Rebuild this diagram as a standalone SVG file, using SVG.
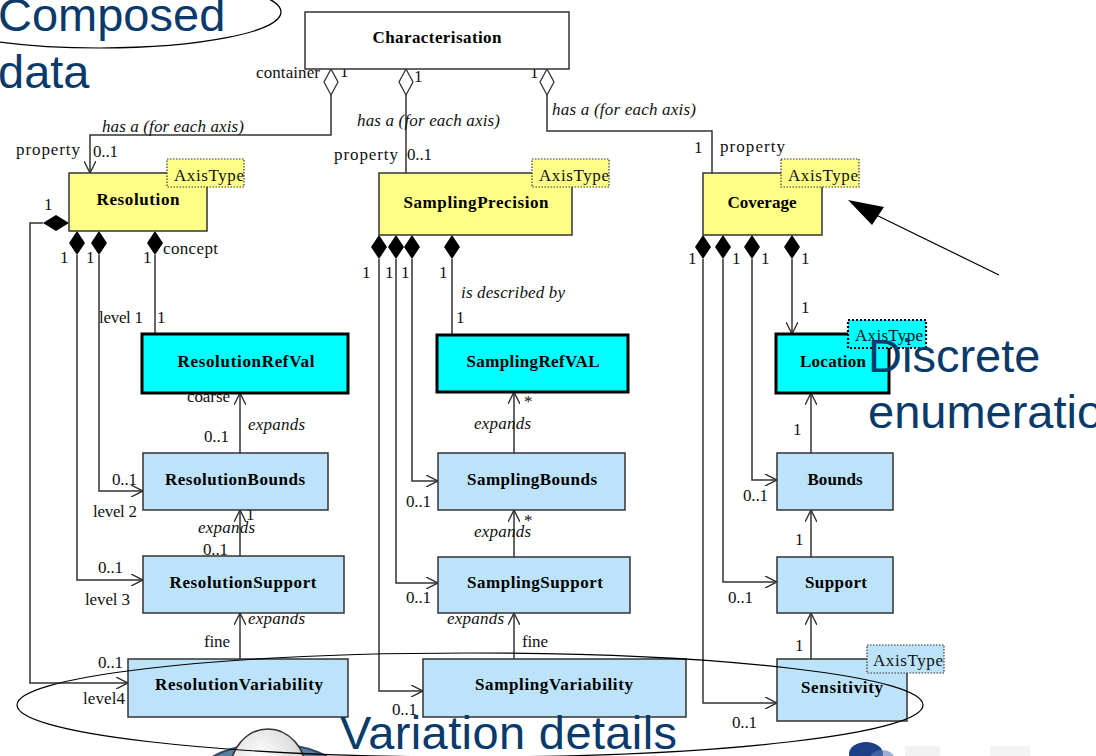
<svg xmlns="http://www.w3.org/2000/svg" xmlns:xlink="http://www.w3.org/1999/xlink" width="1096" height="756" viewBox="0 0 1096 756">
<defs>
<style>
.box{stroke:#333;stroke-width:1.5}
.white{fill:#fff}
.yellow{fill:#ffff88}
.blue{fill:#bde3fb}
.cyan{fill:#00ffff;stroke:#000;stroke-width:3}
.tag{stroke:#333;stroke-width:1.2;stroke-dasharray:1.5 1.5}
.tagc{fill:#00ffff;stroke:#000;stroke-width:2.2;stroke-dasharray:2 2}
.cn{font-family:"Liberation Serif","Times New Roman",serif;font-weight:bold;font-size:17px;text-anchor:middle;fill:#000}
.lb{font-family:"Liberation Serif","Times New Roman",serif;font-size:17px;fill:#111}
.it{font-style:italic}
.ln{fill:none;stroke:#333;stroke-width:1.5}
.arr{marker-end:url(#oa)}
.ann{font-family:"Liberation Sans",Arial,sans-serif;font-size:47px;fill:#0a3a6b}
.ell{fill:none;stroke:#000;stroke-width:1.2}
</style>
<marker id="oa" viewBox="0 0 10 10" refX="10" refY="5" markerWidth="12" markerHeight="12" markerUnits="userSpaceOnUse" orient="auto">
<path d="M0,0 L10,5 L0,10" fill="none" stroke="#333" stroke-width="1.2"/>
</marker>
<path id="fdv" d="M0,0 L8,12 L0,24 L-8,12Z" fill="#000"/>
<path id="fdh" d="M0,0 L-13,-8 L-26,0 L-13,8Z" fill="#000"/>
<path id="hd" d="M0,0 L7,13 L0,26 L-7,13Z" fill="#fff" stroke="#333" stroke-width="1.3"/>
<radialGradient id="dome" cx="0.4" cy="0.35" r="0.7">
<stop offset="0" stop-color="#ffffff"/>
<stop offset="0.7" stop-color="#dcdcdc"/>
<stop offset="1" stop-color="#9a9a9a"/>
</radialGradient>
</defs>
<rect width="1096" height="756" fill="#fff"/>

<g id="connectors">
<polyline class="ln arr" points="331,95 331,135 90,135 90,173"/>
<polyline class="ln" points="406,95 406,173"/>
<polyline class="ln" points="547,95 547,131 712,131 712,173"/>
<use xlink:href="#hd" x="331" y="69"/>
<use xlink:href="#hd" x="406" y="69"/>
<use xlink:href="#hd" x="547" y="69"/>
<text class="lb" x="256" y="78" textLength="64">container</text>
<text class="lb" x="340" y="77">1</text>
<text class="lb" x="414" y="82">1</text>
<text class="lb" x="530" y="78">1</text>
<text class="lb it" x="102" y="132" textLength="142">has a (for each axis)</text>
<text class="lb it" x="357" y="126" textLength="143">has a (for each axis)</text>
<text class="lb it" x="552" y="115" textLength="144">has a (for each axis)</text>
<text class="lb" x="16" y="155" textLength="64">property</text>
<text class="lb" x="93" y="157" textLength="25">0..1</text>
<text class="lb" x="334" y="160" textLength="64">property</text>
<text class="lb" x="407" y="160" textLength="25">0..1</text>
<text class="lb" x="694" y="153">1</text>
<text class="lb" x="720" y="152" textLength="65">property</text>

<polyline class="ln arr" points="43,223 30,223 30,683 128,683"/>
<polyline class="ln arr" points="77,255 77,580 143,580"/>
<polyline class="ln arr" points="99,255 99,491 143,491"/>
<polyline class="ln" points="155,255 155,334"/>
<use xlink:href="#fdh" x="69" y="223"/>
<use xlink:href="#fdv" x="77" y="231"/>
<use xlink:href="#fdv" x="99" y="231"/>
<use xlink:href="#fdv" x="155" y="231"/>
<line class="ln arr" x1="240" y1="453" x2="240" y2="393"/>
<line class="ln arr" x1="240" y1="556" x2="240" y2="510"/>
<line class="ln arr" x1="240" y1="659" x2="240" y2="613"/>
<text class="lb" x="44" y="210">1</text>
<text class="lb" x="60" y="263">1</text>
<text class="lb" x="86" y="263">1</text>
<text class="lb" x="143" y="263">1</text>
<text class="lb" x="163" y="254" textLength="55">concept</text>
<text class="lb" x="99" y="323" textLength="44">level 1</text>
<text class="lb" x="157" y="323">1</text>
<text class="lb" x="187" y="402" textLength="43">coarse</text>
<text class="lb it" x="248" y="430" textLength="57">expands</text>
<text class="lb" x="204" y="442" textLength="25">0..1</text>
<text class="lb" x="112" y="485" textLength="25">0..1</text>
<text class="lb" x="93" y="517" textLength="44">level 2</text>
<text class="lb" x="246" y="520">1</text>
<text class="lb it" x="198" y="533" textLength="57">expands</text>
<text class="lb" x="203" y="555" textLength="25">0..1</text>
<text class="lb" x="98" y="573" textLength="25">0..1</text>
<text class="lb" x="85" y="605" textLength="45">level 3</text>
<text class="lb it" x="248" y="624" textLength="57">expands</text>
<text class="lb" x="204" y="647" textLength="26">fine</text>
<text class="lb" x="98" y="668" textLength="25">0..1</text>
<text class="lb" x="83" y="704" textLength="42">level4</text>

<polyline class="ln arr" points="379,259 379,691 423,691"/>
<polyline class="ln arr" points="396,259 396,583 438,583"/>
<polyline class="ln arr" points="412,259 412,481 438,481"/>
<polyline class="ln" points="452,259 452,335"/>
<use xlink:href="#fdv" x="379" y="235"/>
<use xlink:href="#fdv" x="396" y="235"/>
<use xlink:href="#fdv" x="412" y="235"/>
<use xlink:href="#fdv" x="452" y="235"/>
<line class="ln arr" x1="514" y1="453" x2="514" y2="392"/>
<line class="ln arr" x1="514" y1="557" x2="514" y2="510"/>
<line class="ln arr" x1="514" y1="659" x2="514" y2="613"/>
<text class="lb" x="362" y="278">1</text>
<text class="lb" x="385" y="278">1</text>
<text class="lb" x="401" y="278">1</text>
<text class="lb" x="439" y="278">1</text>
<text class="lb it" x="461" y="298" textLength="104">is described by</text>
<text class="lb" x="456" y="323">1</text>
<text class="lb" x="524" y="407">*</text>
<text class="lb it" x="474" y="429" textLength="57">expands</text>
<text class="lb" x="406" y="507" textLength="25">0..1</text>
<text class="lb" x="524" y="526">*</text>
<text class="lb it" x="474" y="537" textLength="57">expands</text>
<text class="lb" x="406" y="603" textLength="25">0..1</text>
<text class="lb it" x="447" y="624" textLength="57">expands</text>
<text class="lb" x="522" y="647" textLength="26">fine</text>
<text class="lb" x="392" y="715" textLength="25">0..1</text>

<polyline class="ln arr" points="703,259 703,703 777,703"/>
<polyline class="ln arr" points="723,259 723,582 777,582"/>
<polyline class="ln arr" points="752,259 752,480 777,480"/>
<polyline class="ln arr" points="792,259 792,334"/>
<use xlink:href="#fdv" x="703" y="235"/>
<use xlink:href="#fdv" x="723" y="235"/>
<use xlink:href="#fdv" x="752" y="235"/>
<use xlink:href="#fdv" x="792" y="235"/>
<line class="ln arr" x1="811" y1="453" x2="811" y2="393"/>
<line class="ln arr" x1="811" y1="557" x2="811" y2="510"/>
<line class="ln arr" x1="811" y1="659" x2="811" y2="613"/>
<text class="lb" x="688" y="264">1</text>
<text class="lb" x="732" y="264">1</text>
<text class="lb" x="761" y="264">1</text>
<text class="lb" x="801" y="264">1</text>
<text class="lb" x="801" y="313">1</text>
<text class="lb" x="793" y="435">1</text>
<text class="lb" x="743" y="501" textLength="25">0..1</text>
<text class="lb" x="795" y="545">1</text>
<text class="lb" x="728" y="603" textLength="25">0..1</text>
<text class="lb" x="795" y="651">1</text>
<text class="lb" x="732" y="728" textLength="25">0..1</text>
</g>

<g id="node-characterisation">
<rect class="box white" x="305" y="12" width="264" height="57"/>
<text class="cn" x="437" y="43" textLength="129">Characterisation</text>
</g>
<g id="node-resolution">
<rect class="box yellow" x="69" y="173" width="138" height="58"/>
<text class="cn" x="138" y="205" textLength="83">Resolution</text>
<rect class="tag yellow" x="167" y="159" width="77" height="28"/>
<text class="lb" x="174" y="181" textLength="70">AxisType</text>
</g>
<g id="node-samplingprecision">
<rect class="box yellow" x="379" y="173" width="193" height="62"/>
<text class="cn" x="476" y="208" textLength="145">SamplingPrecision</text>
<rect class="tag yellow" x="532" y="159" width="77" height="28"/>
<text class="lb" x="539" y="181" textLength="70">AxisType</text>
</g>
<g id="node-coverage">
<rect class="box yellow" x="703" y="173" width="119" height="62"/>
<text class="cn" x="762" y="208" textLength="69">Coverage</text>
<rect class="tag yellow" x="781" y="159" width="78" height="28"/>
<text class="lb" x="788" y="181" textLength="70">AxisType</text>
</g>
<g id="node-resolutionrefval">
<rect class="cyan" x="142" y="334" width="206" height="59"/>
<text class="cn" x="246" y="367" textLength="137">ResolutionRefVal</text>
</g>
<g id="node-samplingrefval">
<rect class="cyan" x="437" y="335" width="191" height="57"/>
<text class="cn" x="533" y="367" textLength="133">SamplingRefVAL</text>
</g>
<g id="node-location">
<rect class="cyan" x="776" y="334" width="113" height="59"/>
<text class="cn" x="833" y="367" textLength="66">Location</text>
<rect class="tagc" x="848" y="320" width="78" height="28"/>
<text class="lb" x="855" y="341" textLength="68">AxisType</text>
</g>
<g id="node-resolutionbounds">
<rect class="box blue" x="143" y="453" width="185" height="57"/>
<text class="cn" x="235" y="485" textLength="140">ResolutionBounds</text>
</g>
<g id="node-samplingbounds">
<rect class="box blue" x="438" y="453" width="187" height="57"/>
<text class="cn" x="532" y="485" textLength="130">SamplingBounds</text>
</g>
<g id="node-bounds">
<rect class="box blue" x="777" y="453" width="116" height="57"/>
<text class="cn" x="835" y="485" textLength="55">Bounds</text>
</g>
<g id="node-resolutionsupport">
<rect class="box blue" x="143" y="556" width="201" height="57"/>
<text class="cn" x="243" y="588" textLength="147">ResolutionSupport</text>
</g>
<g id="node-samplingsupport">
<rect class="box blue" x="438" y="557" width="192" height="56"/>
<text class="cn" x="535" y="588" textLength="136">SamplingSupport</text>
</g>
<g id="node-support">
<rect class="box blue" x="777" y="557" width="116" height="56"/>
<text class="cn" x="836" y="588" textLength="62">Support</text>
</g>
<g id="node-resolutionvariability">
<rect class="box blue" x="128" y="659" width="220" height="58"/>
<text class="cn" x="239" y="690" textLength="168">ResolutionVariability</text>
</g>
<g id="node-samplingvariability">
<rect class="box blue" x="423" y="659" width="263" height="58"/>
<text class="cn" x="554" y="690" textLength="158">SamplingVariability</text>
</g>
<g id="node-sensitivity">
<rect class="box blue" x="777" y="659" width="130" height="62"/>
<text class="cn" x="842" y="693" textLength="82">Sensitivity</text>
<rect class="tag blue" x="867" y="645" width="77" height="28"/>
<text class="lb" x="873" y="666" textLength="70">AxisType</text>
</g>

<g id="bottom-pictures">
<ellipse cx="270" cy="772" rx="68" ry="28" fill="#5d7f9e" stroke="#2f4a66" stroke-width="2"/>
<ellipse cx="270" cy="774" rx="52" ry="20" fill="#9fb6cc"/>
<ellipse cx="268" cy="772" rx="38" ry="43" fill="url(#dome)" stroke="#333" stroke-width="1.5"/>
<ellipse cx="866" cy="754" rx="17" ry="12" fill="#1c3f86"/>
<ellipse cx="882" cy="758" rx="12" ry="8" fill="#5a79b4" opacity="0.6"/>
<rect x="905" y="746" width="35" height="10" fill="#f2f2f2"/>
<rect x="990" y="746" width="40" height="10" fill="#f4f4f4"/>
</g>

<g id="annotations">
<ellipse class="ell" cx="100" cy="12" rx="181" ry="36"/>
<text class="ann" x="-2" y="31">Composed</text>
<text class="ann" x="-2" y="88">data</text>
<text class="ann" x="868" y="372">Discrete</text>
<text class="ann" x="868" y="428">enumeration</text>
<line x1="999" y1="275" x2="872" y2="213" stroke="#000" stroke-width="1.2"/>
<polygon points="848,200 884,207 872,225" fill="#000"/>
<ellipse class="ell" cx="470" cy="705" rx="453" ry="52"/>
<text class="ann" x="340" y="749" textLength="337">Variation details</text>
</g>
</svg>
